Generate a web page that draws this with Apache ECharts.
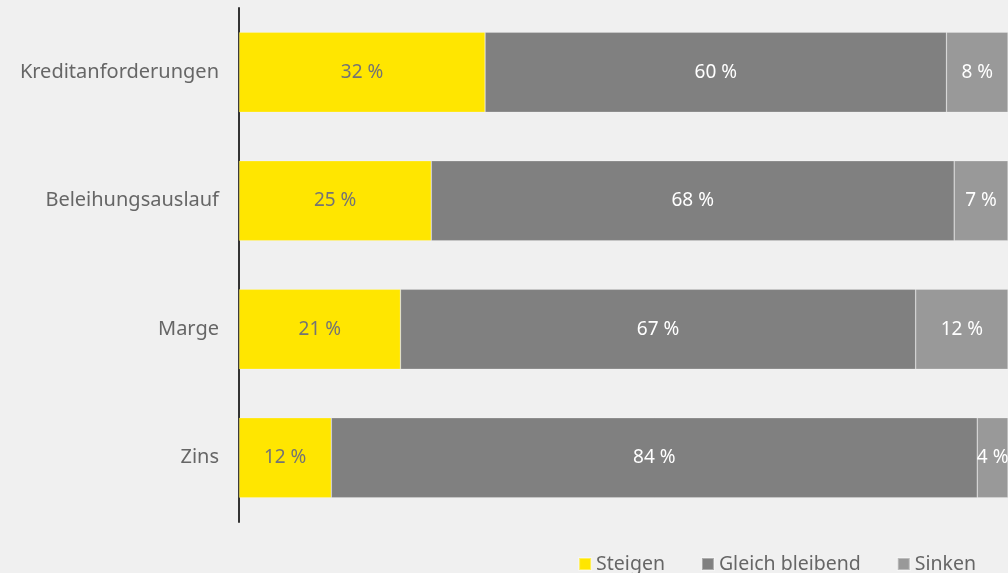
<!DOCTYPE html>
<html><head><meta charset="utf-8">
<script src="https://cdn.jsdelivr.net/npm/echarts@6/dist/echarts.min.js"></script>
<style>html,body{margin:0;padding:0;background:#f0f0f0}#c{width:1008px;height:573px}</style>
</head><body><div id="c"></div>
<script>
const categories = ['Kreditanforderungen', 'Beleihungsauslauf', 'Marge', 'Zins'];
const steigen = [32, 25, 21, 12];
const gleich = [60, 68, 67, 84];
const sinken = [8, 7, 12, 4];
const seriesNames = ['Steigen', 'Gleich bleibend', 'Sinken'];
const colors = ['#ffe600', '#808080', '#999999'];
const labelColors = ['#747474', '#ffffff', '#ffffff'];
const font = 'Noto Sans';
const chart = echarts.init(document.getElementById('c'));
const data = [steigen, gleich, sinken];
chart.setOption({
  backgroundColor: '#f0f0f0',
  animation: false,
  grid: {left: 239, right: 0, top: 8, bottom: 51},
  legend: {
    right: 27, top: 549, itemWidth: 12, itemHeight: 12, itemGap: 36,
    icon: 'rect',
    textStyle: {color: '#666', fontSize: 19.5, fontFamily: font},
    data: seriesNames
  },
  xAxis: {type: 'value', min: 0, max: 100, show: false},
  yAxis: {
    type: 'category', data: categories, inverse: true,
    axisLine: {show: true, lineStyle: {color: '#333', width: 2}},
    axisTick: {show: false},
    axisLabel: {color: '#666', fontSize: 20, fontFamily: font, margin: 20}
  },
  series: seriesNames.map((n, i) => ({
    name: n, type: 'bar', stack: 'a', barWidth: 80,
    data: data[i],
    itemStyle: {color: colors[i], borderColor: 'rgba(255,255,255,0.35)', borderWidth: 0.6},
    label: {show: true, position: 'inside', formatter: '{c} %', color: labelColors[i], fontSize: 19, fontFamily: font}
  }))
});
</script></body></html>
